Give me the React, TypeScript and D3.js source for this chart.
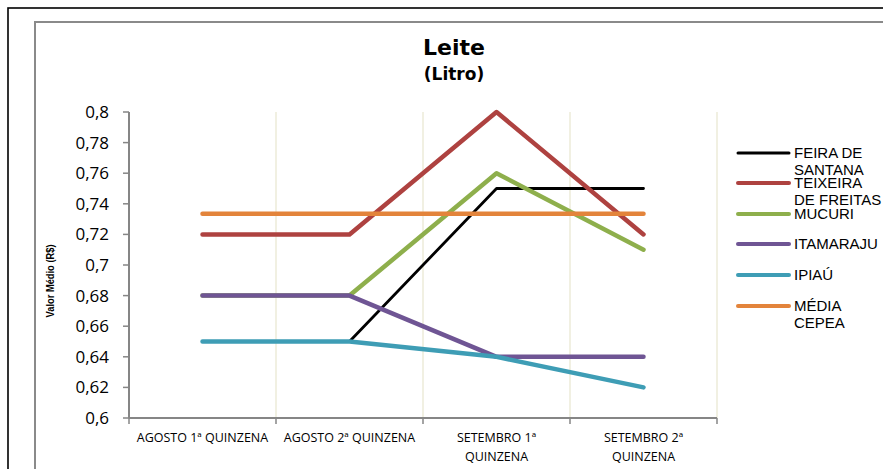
import React from "react";
import * as d3 from "d3";

const categories = [
  ["AGOSTO  1ª QUINZENA"],
  ["AGOSTO 2ª QUINZENA"],
  ["SETEMBRO 1ª", "QUINZENA"],
  ["SETEMBRO 2ª", "QUINZENA"],
];
const seriesNames = [
  ["FEIRA DE", "SANTANA"],
  ["TEIXEIRA", "DE FREITAS"],
  ["MUCURI"],
  ["ITAMARAJU"],
  ["IPIAÚ"],
  ["MÉDIA", "CEPEA"],
];
const feira = [0.65, 0.65, 0.75, 0.75];
const teixeira = [0.72, 0.72, 0.8, 0.72];
const mucuri = [0.68, 0.68, 0.76, 0.71];
const itamaraju = [0.68, 0.68, 0.64, 0.64];
const ipiau = [0.65, 0.65, 0.64, 0.62];
const mediaCepea = [0.7335, 0.7335, 0.7335, 0.7335];
const yTicks = [0.6, 0.62, 0.64, 0.66, 0.68, 0.7, 0.72, 0.74, 0.76, 0.78, 0.8];

const seriesValues = [feira, teixeira, mucuri, itamaraju, ipiau, mediaCepea];
const colors = ["#000000", "#AE4240", "#8EAF4C", "#6F5594", "#3E9DB5", "#E3843B"];
const widths = [2.8, 4.5, 4.5, 4.5, 4.5, 4.5];

export default function App() {
  const W = 883, H = 469;
  const left = 129, right = 717, top = 112, bottom = 418;
  const x = d3.scaleBand<number>().domain(d3.range(categories.length)).range([left, right]);
  const y = d3.scaleLinear().domain([0.6, 0.8]).range([bottom, top]);
  const line = d3
    .line<number>()
    .x((_, i) => (x(i) as number) + x.bandwidth() / 2)
    .y((v) => y(v));
  const fmt = (v: number) => String(+v.toFixed(2)).replace(".", ",");
  const boundaries = d3.range(1, categories.length + 1).map((i) => left + i * x.bandwidth());
  const legendY = [153, 183, 214, 244, 275, 306];

  return (
    <svg width={W} height={H} style={{ position: "absolute", left: 0, top: 0, background: "#fff" }}>
      <rect x={0} y={0} width={W} height={H} fill="#fff" />
      <rect x={8} y={8} width={W + 20} height={H + 20} fill="none" stroke="#000" strokeWidth={1.6} />
      <rect x={35} y={22} width={W + 20} height={H + 20} fill="none" stroke="#8a8a8a" strokeWidth={2} />

      <text x={454} y={55} textAnchor="middle" fontFamily="DejaVu Sans" fontWeight="bold" fontSize={22}>
        Leite
      </text>
      <text x={454} y={80} textAnchor="middle" fontFamily="DejaVu Sans" fontWeight="bold" fontSize={17}>
        (Litro)
      </text>

      {boundaries.map((bx, i) => (
        <line key={i} x1={bx} x2={bx} y1={top} y2={bottom} stroke="#ecebd9" strokeWidth={1.5} />
      ))}

      <line x1={left} x2={left} y1={top} y2={bottom} stroke="#868686" strokeWidth={2} />
      <line x1={left} x2={right} y1={bottom} y2={bottom} stroke="#868686" strokeWidth={2} />
      {yTicks.map((t) => (
        <g key={t}>
          <line x1={left - 6} x2={left} y1={y(t)} y2={y(t)} stroke="#868686" strokeWidth={1.5} />
          <text
            x={109}
            y={y(t)}
            dy="0.35em"
            textAnchor="end"
            fontFamily="Open Sans"
            fontSize={17}
            fill="#000"
          >
            {fmt(t)}
          </text>
        </g>
      ))}
      {[left, ...boundaries].map((bx, i) => (
        <line key={i} x1={bx} x2={bx} y1={bottom} y2={bottom + 6} stroke="#868686" strokeWidth={1.5} />
      ))}
      {categories.map((lines, i) => (
        <text
          key={i}
          x={(x(i) as number) + x.bandwidth() / 2}
          y={442}
          textAnchor="middle"
          fontFamily="Open Sans"
          fontSize={12.5}
          fill="#000"
        >
          {lines.map((l, j) => (
            <tspan key={j} x={(x(i) as number) + x.bandwidth() / 2} dy={j === 0 ? 0 : 19}>
              {l}
            </tspan>
          ))}
        </text>
      ))}

      <text
        transform={`translate(54,${281}) rotate(-90)`}
        textAnchor="middle"
        fontFamily="Liberation Sans"
        fontWeight="bold"
        fontSize={11}
        textLength={73}
        lengthAdjust="spacingAndGlyphs"
      >
        Valor Médio (R$)
      </text>

      {seriesValues.map((vals, s) => (
        <path
          key={s}
          d={line(vals) as string}
          fill="none"
          stroke={colors[s]}
          strokeWidth={widths[s]}
          strokeLinecap="round"
          strokeLinejoin="round"
        />
      ))}

      {seriesNames.map((lines, s) => (
        <g key={s}>
          <line
            x1={738}
            x2={789}
            y1={legendY[s]}
            y2={legendY[s]}
            stroke={colors[s]}
            strokeWidth={widths[s] === 4.5 ? 4 : 3}
            strokeLinecap="round"
          />
          <text x={794} y={legendY[s]} fontFamily="Liberation Sans" fontSize={15} fill="#000">
            {lines.map((l, j) => (
              <tspan key={j} x={794} dy={j === 0 ? "0.36em" : 16.5}>
                {l}
              </tspan>
            ))}
          </text>
        </g>
      ))}
    </svg>
  );
}
